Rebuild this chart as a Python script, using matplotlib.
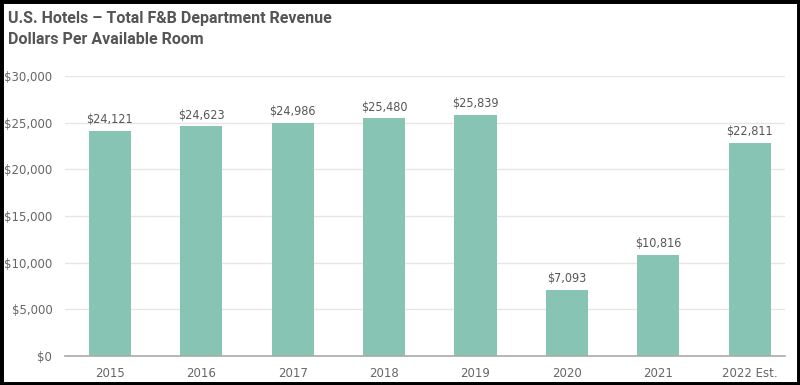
import matplotlib
matplotlib.use("Agg")
import matplotlib.pyplot as plt
from matplotlib.patches import Rectangle
from matplotlib.ticker import FuncFormatter

years = ["2015", "2016", "2017", "2018", "2019", "2020", "2021", "2022 Est."]
revenue = [24121, 24623, 24986, 25480, 25839, 7093, 10816, 22811]
y_ticks = [0, 5000, 10000, 15000, 20000, 25000, 30000]

BAR_COLOR = "#88c4b4"
TEXT_GRAY = "#666666"

fig = plt.figure(figsize=(8, 3.85), dpi=100)
ax = fig.add_axes([0.081, 0.0753, 0.9, 0.7273])

x = list(range(len(years)))
ax.bar(x, revenue, width=0.46, color=BAR_COLOR, zorder=3)

for xi, v in zip(x, revenue):
    ax.text(xi, v + 500, f"${v:,}", ha="center", va="bottom", fontsize=9,
            color="#555555", family="DejaVu Sans", stretch="condensed")

ax.set_xlim(-0.492, 7.383)
ax.set_ylim(0, 30000)
ax.set_yticks(y_ticks)
ax.yaxis.set_major_formatter(FuncFormatter(lambda v, _: f"${v:,.0f}"))
ax.set_xticks(x)
ax.set_xticklabels(years)
ax.tick_params(axis="both", length=0, labelsize=8.5, colors=TEXT_GRAY)
ax.tick_params(axis="y", pad=9)
ax.tick_params(axis="x", pad=8)

ax.grid(axis="y", color="#e6e6e6", linewidth=1, zorder=0)
for side in ["top", "right", "left"]:
    ax.spines[side].set_visible(False)
ax.spines["bottom"].set_color("#aaaaaa")
ax.spines["bottom"].set_linewidth(1.2)
ax.spines["bottom"].set_zorder(4)

fig.text(0.01, 0.953, "U.S. Hotels \u2013 Total F&B Department Revenue", fontsize=11.5,
         fontweight="bold", color="#555555", va="center", family="Roboto")
fig.text(0.01, 0.897, "Dollars Per Available Room", fontsize=11.5,
         fontweight="bold", color="#555555", va="center", family="Roboto")

# black frame around the picture
fig.patches.append(Rectangle((0, 0), 1, 1, transform=fig.transFigure, fill=False,
                             edgecolor="black", linewidth=5, zorder=10))

fig.savefig("out.png", dpi=100)
